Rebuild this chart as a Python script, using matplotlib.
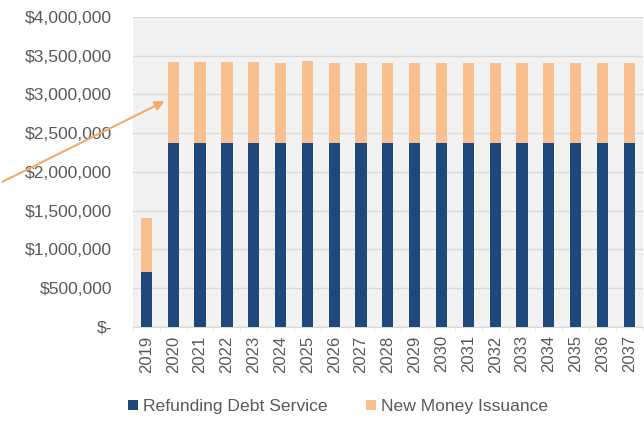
import matplotlib.pyplot as plt
from matplotlib.patches import FancyArrowPatch
from matplotlib.ticker import FuncFormatter, FixedLocator
import numpy as np

plt.rcParams['font.family'] = ['Liberation Sans', 'DejaVu Sans']

years = [str(y) for y in range(2019, 2038)]
refunding = [710000] + [2380000] * 18
new_money = [700000, 1035000, 1035000, 1035000, 1040000, 1030000, 1050000,
             1030000, 1030000, 1030000, 1025000, 1025000, 1025000, 1025000,
             1025000, 1025000, 1025000, 1025000, 1025000]

BLUE = '#1f497d'
ORANGE = '#fabf8f'
TEXT = '#595959'
FS = 12.6


def dollars(v, pos):
    if v == 0:
        return '$-'
    return '${:,.0f}'.format(v)


fig = plt.figure(figsize=(6.44, 4.25), dpi=100)
ax = fig.add_axes([0.2065, 0.2306, 0.7915, 0.7294])
ax.set_facecolor('#f2f2f2')

x = np.arange(len(years))
ax.bar(x, refunding, width=0.42, color=BLUE, label='Refunding Debt Service', zorder=3)
ax.bar(x, new_money, width=0.42, bottom=refunding, color=ORANGE,
       label='New Money Issuance', zorder=3)

ax.set_xlim(-0.5, len(years) - 0.5)
ax.set_ylim(0, 4000000)
ax.set_yticks(np.arange(0, 4000001, 500000))
ax.yaxis.set_major_formatter(FuncFormatter(dollars))
ax.grid(axis='y', color='#d9d9d9', linewidth=1, zorder=0)

ax.set_xticks(x)
ax.set_xticklabels(years, rotation=90)
ax.xaxis.set_minor_locator(FixedLocator(np.arange(-0.5, len(years), 1)))
ax.tick_params(axis='x', which='major', length=0, pad=6, labelsize=FS - 0.6, labelcolor=TEXT)
ax.tick_params(axis='x', which='minor', length=3, color='#e0e0e0')
ax.tick_params(axis='y', length=0, pad=15, labelsize=FS, labelcolor=TEXT)

for side in ['top', 'right', 'left']:
    ax.spines[side].set_visible(False)
ax.spines['bottom'].set_color('#d9d9d9')

# arrow pointing at the 2020 bar
fig.patches.append(FancyArrowPatch(
    (0.0, 1 - 183 / 425), (167 / 644, 1 - 100 / 425),
    transform=fig.transFigure, arrowstyle='-|>', mutation_scale=14,
    color='#f5a96b', linewidth=1.5))

leg = fig.legend(loc='center', bbox_to_anchor=(0.525, 0.043), ncol=2, frameon=False,
                 fontsize=FS, handlelength=0.55, handleheight=0.55,
                 handletextpad=0.3, columnspacing=2.2)
for t in leg.get_texts():
    t.set_color(TEXT)

fig.savefig('out.png', dpi=100)
